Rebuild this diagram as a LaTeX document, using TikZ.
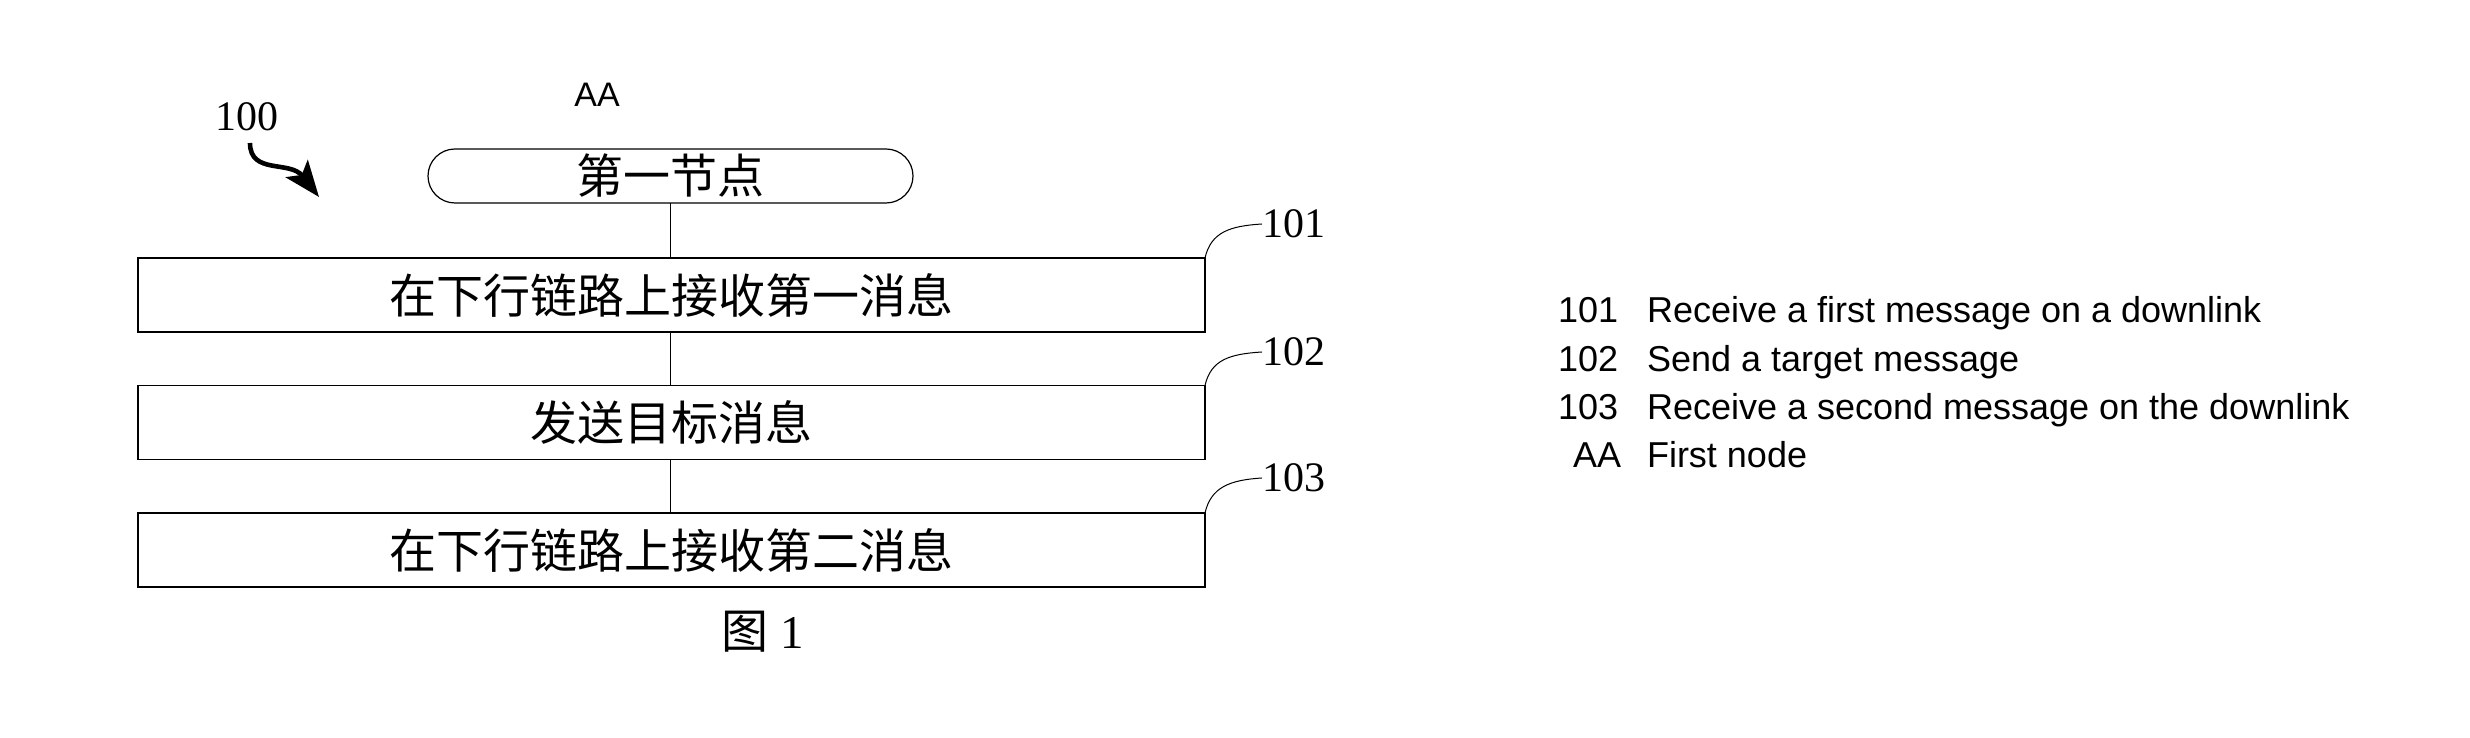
\documentclass[tikz,border=0pt]{standalone}
\usepackage{fontspec}
\setmainfont{Liberation Serif}
\newfontfamily\cjk{Noto Sans CJK SC}
\newfontfamily\arialf{Liberation Sans}
\usetikzlibrary{arrows.meta,calc}
\begin{document}
\begin{tikzpicture}[x=0.5pt,y=0.5pt,
  stepbox/.style={draw, line width=0.9pt, minimum width=533.5pt, minimum height=37pt,
    inner sep=0pt, outer sep=0pt, font=\cjk\fontsize{23.5}{26}\selectfont},
  startbox/.style={draw, line width=0.6pt, rounded corners=13.5pt, minimum width=242.5pt,
    minimum height=27pt, inner sep=0pt, outer sep=0pt, font=\cjk\fontsize{23.5}{26}\selectfont},
  reflabel/.style={anchor=west, inner sep=0pt, outer sep=0pt, font=\fontsize{21}{24}\selectfont},
  conn/.style={line width=0.6pt},
  leader/.style={line width=0.5pt},
  legend/.style={anchor=base west, inner sep=0pt, outer sep=0pt, font=\arialf\fontsize{18}{21}\selectfont}
]
\useasboundingbox (0,0) rectangle (2470,738);

% figure reference and arrow
\node[inner sep=0pt, font=\fontsize{21}{24}\selectfont] (n100) at (247,621) {100};
\coordinate (a0) at (250,595);
\coordinate (a1) at (319,541);
\draw[line width=2.3pt, -{Stealth[length=18pt,width=14pt,inset=4pt]}] (a0) .. controls (250,563) and (290,578) .. (a1);

% AA label
\node[inner sep=0pt, font=\arialf\fontsize{17}{20}\selectfont] (aa) at (597,643) {AA};

% nodes
\node[startbox] (start) at (670.5,562) {第一节点};
\node[stepbox] (b1) at (671.5,443) {在下行链路上接收第一消息};
\node[stepbox] (b2) at (671.5,315.5) {发送目标消息};
\node[stepbox] (b3) at (671.5,188) {在下行链路上接收第二消息};

% connectors
\draw[conn] (start.south) -- (start.south |- b1.north);
\draw[conn] (b1.south -| start.south) -- (start.south |- b2.north);
\draw[conn] (b2.south -| start.south) -- (start.south |- b3.north);

% reference labels
\node[reflabel] (l1) at (1262,514) {101};
\node[reflabel] (l2) at (1262,386) {102};
\node[reflabel] (l3) at (1262,260) {103};
\draw[leader] (b1.north east) .. controls ($(b1.north east)+(6,26)$) and ($(l1.west)+(-32,-2)$) .. (l1.west);
\draw[leader] (b2.north east) .. controls ($(b2.north east)+(6,26)$) and ($(l2.west)+(-32,-2)$) .. (l2.west);
\draw[leader] (b3.north east) .. controls ($(b3.north east)+(6,26)$) and ($(l3.west)+(-32,-2)$) .. (l3.west);

% caption
\node[inner sep=0pt, font=\fontsize{23.5}{26}\selectfont] (cap) at (763,106) {{\cjk 图} 1};

% legend
\node[legend] (k1) at (1558,415) {101};
\node[legend] (t1) at (1647,415) {Receive a first message on a downlink};
\node[legend] (k2) at (1558,366) {102};
\node[legend] (t2) at (1647,366) {Send a target message};
\node[legend] (k3) at (1558,318) {103};
\node[legend] (t3) at (1647,318) {Receive a second message on the downlink};
\node[legend] (k4) at (1573,270) {AA};
\node[legend] (t4) at (1647,270) {First node};
\end{tikzpicture}
\end{document}
